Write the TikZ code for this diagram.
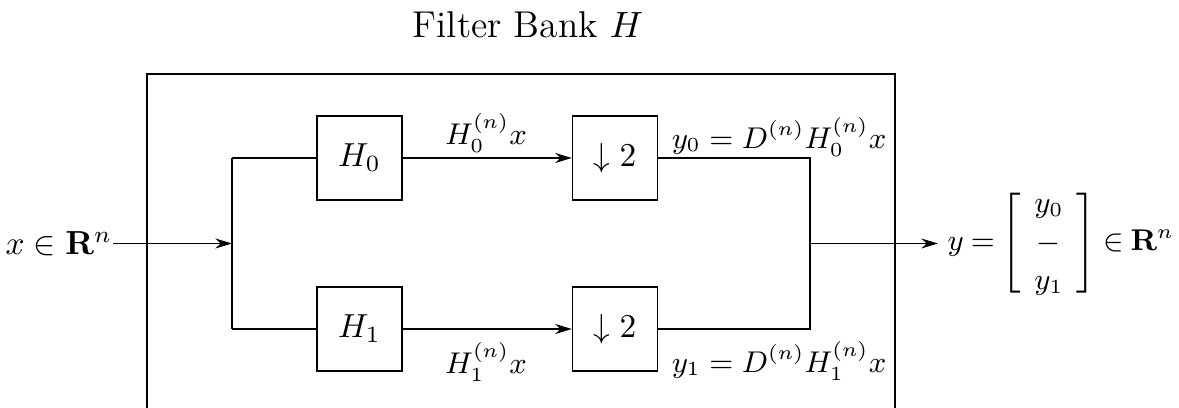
\documentclass[tikz,border=0pt]{standalone}
\usetikzlibrary{arrows.meta}
\begin{document}
\begin{tikzpicture}[x=0.3pt,y=-0.3pt, line width=0.4pt,
  >={Stealth[length=5pt,width=3pt]},
  blk/.style={draw, minimum width=25.5pt, minimum height=25.2pt, inner sep=0pt},
  lbl/.style={inner sep=0pt},
  sm/.style={inner sep=0pt, font=\fontsize{9}{11}\selectfont}]
\useasboundingbox (0,0) rectangle (1179,408);
\node[lbl, font=\fontsize{11.2}{13}\selectfont] (title) at (528,25) {Filter Bank $H$};
\draw (147,408) -- (147,74) -- (895,74) -- (895,408);
\node[blk] (h0) at (359.5,158) {$H_0$};
\node[blk] (h1) at (359.5,329) {$H_1$};
\node[blk] (d0) at (615,158) {$\downarrow 2$};
\node[blk] (d1) at (615,329) {$\downarrow 2$};
\coordinate (split) at (232,243.5);
\coordinate (join) at (810,243.5);
\coordinate (j0) at (810,158);
\coordinate (j1) at (810,329);
\coordinate (s0) at (232,158);
\coordinate (s1) at (232,329);
\coordinate (tip) at (938,243.5);
\node[lbl, anchor=east] (in) at (113,243.5) {$x\in\mathbf{R}^n$};
\node[sm, anchor=west] (out) at (947,243.5) {\arraycolsep=4pt\thickmuskip=4mu$y=\left[\rule[-11pt]{0pt}{27pt}\smash{\renewcommand{\arraystretch}{1.05}\begin{array}{c} y_0\\ -\\ y_1\end{array}}\right]\in\mathbf{R}^n$};
\draw[->] (in) -- (split);
\draw (s0) -- (s1);
\draw (s0) -- (h0.west);
\draw (s1) -- (h1.west);
\draw[->] (h0.east) -- (d0.west);
\draw[->] (h1.east) -- (d1.west);
\draw (d0.east) -- (j0) -- (j1) -- (d1.east);
\draw[->] (join) -- (tip);
\node[sm] (l0) at (486,133) {$H_0^{(n)}x$};
\node[sm] (l1) at (486,362) {$H_1^{(n)}x$};
\node[sm] (r0) at (779,137) {$y_0=D^{(n)}H_0^{(n)}x$};
\node[sm] (r1) at (779,361) {$y_1=D^{(n)}H_1^{(n)}x$};
\end{tikzpicture}
\end{document}
